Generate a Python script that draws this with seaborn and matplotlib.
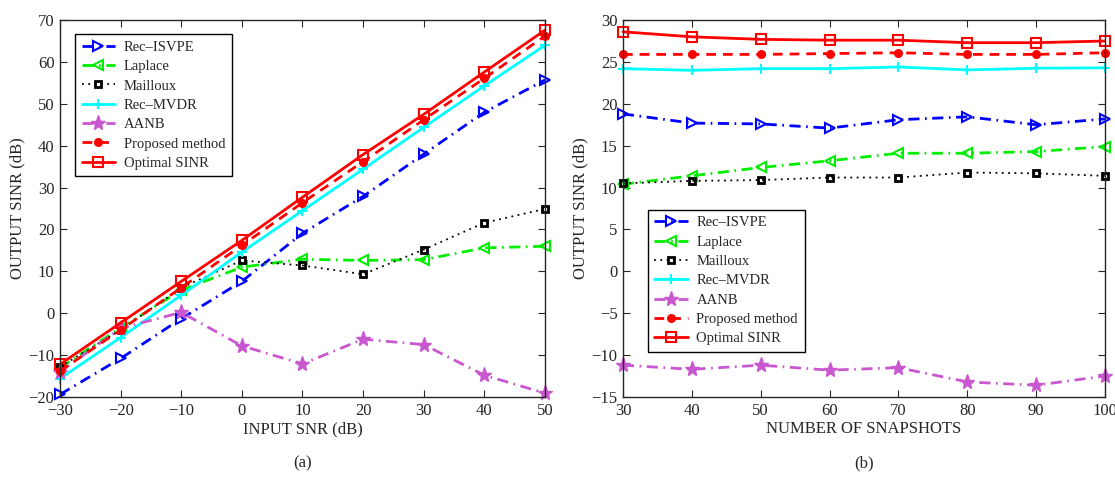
import numpy as np
import pandas as pd
import matplotlib
matplotlib.use('Agg')
import matplotlib.pyplot as plt
import seaborn as sns

# %%
# (a) output SINR vs input SNR
snr = [-30, -20, -10, 0, 10, 20, 30, 40, 50]
a_isvpe = [-19.4, -10.8, -1.3, 7.6, 19.1, 27.9, 38.0, 48.0, 55.7]
a_laplace = [-13.0, -3.5, 5.5, 11.0, 12.9, 12.6, 12.8, 15.6, 16.0]
a_mailloux = [-12.8, -4.0, 6.1, 12.6, 11.4, 9.3, 15.2, 21.6, 24.9]
a_mvdr = [-15.6, -5.8, 4.3, 14.6, 24.5, 34.4, 44.4, 54.3, 64.0]
a_aanb = [-14.0, -3.6, 0.2, -7.8, -12.1, -6.2, -7.5, -14.8, -19.1]
a_proposed = [-13.8, -4.0, 6.1, 16.2, 26.4, 36.2, 46.2, 56.1, 66.2]
a_optimal = [-12.2, -2.3, 7.6, 17.4, 27.7, 37.9, 47.5, 57.6, 67.6]

# (b) output SINR vs number of snapshots
snaps = [30, 40, 50, 60, 70, 80, 90, 100]
b_isvpe = [18.8, 17.7, 17.6, 17.1, 18.1, 18.45, 17.5, 18.2]
b_laplace = [10.4, 11.4, 12.4, 13.2, 14.1, 14.1, 14.3, 14.9]
b_mailloux = [10.5, 10.8, 10.9, 11.2, 11.2, 11.8, 11.7, 11.4]
b_mvdr = [24.2, 24.0, 24.2, 24.2, 24.4, 24.05, 24.25, 24.3]
b_aanb = [-11.2, -11.7, -11.2, -11.8, -11.5, -13.2, -13.6, -12.5]
b_proposed = [25.9, 25.9, 25.9, 26.0, 26.1, 25.9, 25.9, 26.1]
b_optimal = [28.6, 28.0, 27.7, 27.6, 27.6, 27.3, 27.3, 27.5]

names = ['Rec\u2013ISVPE', 'Laplace', 'Mailloux', 'Rec\u2013MVDR', 'AANB',
         'Proposed method', 'Optimal SINR']

colors = ['#0000ff', '#00ee00', 'black', 'cyan', '#c957cf', 'red', 'red']
linestyles = [(0, (4, 2, 0.6, 2)), (0, (4, 2, 0.6, 2)), (0, (1, 2.5)), '-',
              (0, (4, 2, 0.6, 2)), (0, (3.5, 2.5)), '-']
linewidths = [2, 2, 1.3, 2, 2, 2, 2]
markers = ['>', '<', 's', '+', '*', 'o', 's']
filled = [False, False, False, True, True, True, False]
msizes = [7, 7, 5, 7, 11, 5.5, 7]
mwidths = [1.5, 1.5, 2, 1.5, 1, 1, 1.5]

# %%
sns.set_style('ticks')
plt.rcParams['font.family'] = ['Liberation Serif', 'DejaVu Serif']
plt.rcParams['xtick.direction'] = 'in'
plt.rcParams['ytick.direction'] = 'in'
plt.rcParams['xtick.top'] = True
plt.rcParams['ytick.right'] = True
plt.rcParams['font.size'] = 12

fig = plt.figure(figsize=(11.15, 4.78), dpi=100)
ax1 = fig.add_axes([0.0538, 0.1695, 0.435, 0.7885])
ax2 = fig.add_axes([0.5587, 0.1695, 0.4323, 0.7885])

series_a = [a_isvpe, a_laplace, a_mailloux, a_mvdr, a_aanb, a_proposed, a_optimal]
series_b = [b_isvpe, b_laplace, b_mailloux, b_mvdr, b_aanb, b_proposed, b_optimal]


def draw(ax, xs, all_ys):
    for i, ys in enumerate(all_ys):
        sns.lineplot(x=xs, y=ys, ax=ax, label=names[i], lw=linewidths[i],
                     color=colors[i], linestyle=linestyles[i],
                     marker=markers[i], markersize=msizes[i],
                     markeredgecolor=colors[i],
                     markerfacecolor=colors[i] if filled[i] else 'none',
                     markeredgewidth=mwidths[i])


draw(ax1, snr, series_a)
draw(ax2, snaps, series_b)

ax1.set_xlim(-30, 50)
ax1.set_ylim(-20, 70)
ax1.set_xticks(range(-30, 51, 10))
ax1.set_yticks(range(-20, 71, 10))
ax1.set_xlabel('INPUT SNR (dB)', labelpad=2)
ax1.set_ylabel('OUTPUT SINR (dB)', labelpad=2)

ax2.set_xlim(30, 100)
ax2.set_ylim(-15, 30)
ax2.set_xticks(range(30, 101, 10))
ax2.set_yticks(range(-15, 31, 5))
ax2.set_xlabel('NUMBER OF SNAPSHOTS', labelpad=2)
ax2.set_ylabel('OUTPUT SINR (dB)', labelpad=2)

for ax in (ax1, ax2):
    for s in ax.spines.values():
        s.set_linewidth(1.0)
        s.set_visible(True)
    ax.tick_params(labelsize=12, length=5, width=0.8, pad=4)
    for line in ax.get_lines():
        line.set_clip_on(False)

leg_kw = dict(fontsize=10.5, frameon=True, fancybox=False, edgecolor='black',
              framealpha=1, handlelength=2.3, borderpad=0.45, labelspacing=0.42,
              handletextpad=0.6)
l1 = ax1.legend(loc='upper left', bbox_to_anchor=(0.016, 0.982), **leg_kw)
l2 = ax2.legend(loc='lower left', bbox_to_anchor=(0.036, 0.10), **leg_kw)
for l in (l1, l2):
    l.get_frame().set_linewidth(1.0)

fig.text(0.271, 0.022, '(a)', ha='center', fontsize=12)
fig.text(0.775, 0.022, '(b)', ha='center', fontsize=12)

fig.savefig('out.png', dpi=100)
